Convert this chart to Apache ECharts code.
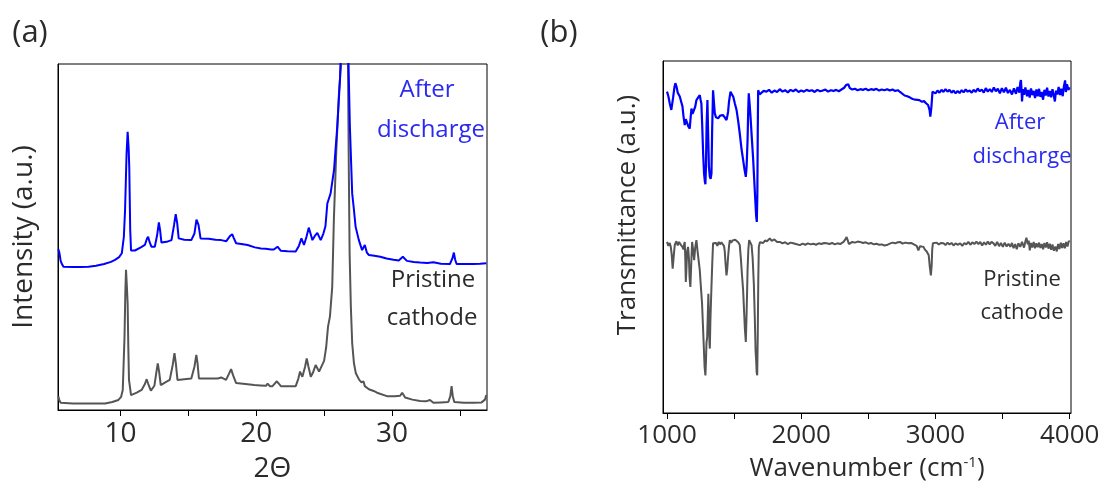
<!DOCTYPE html>
<html><head><meta charset="utf-8">
<script src="https://cdn.jsdelivr.net/npm/echarts@6/dist/echarts.min.js"></script>
<style>html,body{margin:0;padding:0;background:#fff}#c{width:1103px;height:491px}</style>
</head><body><div id="c"></div>
<script>
// ---- (a) XRD data: [2theta, intensity a.u.] ----
const xrdAfter = [[5.42,46.5],[5.5,45.5],[5.6,43.0],[5.69,42.2],[5.8,41.4],[6.5,41.3],[7.0,41.3],[7.65,41.4],[8.2,41.7],[8.8,42.2],[9.3,42.8],[9.6,43.4],[9.9,44.2],[10.1,45.3],[10.25,50.0],[10.34,57.8],[10.45,74.0],[10.53,80.4],[10.6,76.0],[10.65,70.0],[10.72,52.0],[10.78,46.1],[11.07,46.1],[11.5,47.0],[11.8,47.7],[11.95,49.5],[12.04,50.1],[12.15,48.5],[12.28,47.2],[12.53,47.2],[12.7,50.5],[12.83,54.2],[12.92,52.0],[13.02,48.4],[13.4,48.6],[13.76,49.1],[13.95,53.5],[14.07,56.6],[14.18,54.0],[14.29,49.6],[14.7,49.2],[15.22,49.1],[15.45,51.0],[15.6,55.0],[15.66,55.3],[15.75,53.5],[15.9,49.6],[16.5,49.5],[17.0,49.2],[17.42,49.1],[17.55,48.7],[17.8,48.8],[18.05,50.2],[18.23,50.8],[18.35,49.7],[18.52,48.2],[18.9,48.0],[19.37,47.7],[19.9,47.0],[20.35,46.7],[20.7,46.6],[21.08,46.4],[21.3,46.4],[21.57,47.2],[21.82,46.0],[22.3,45.9],[22.91,45.8],[23.15,47.5],[23.33,49.6],[23.52,47.7],[23.7,50.0],[23.87,52.7],[24.0,51.0],[24.14,49.1],[24.35,50.5],[24.5,51.2],[24.75,49.1],[24.95,51.0],[25.1,53.1],[25.24,59.7],[25.48,62.6],[25.73,69.3],[25.97,81.9],[26.17,95.4],[26.3,112],[26.5,130],[26.7,112],[26.8,100],[26.9,81.9],[27.07,62.6],[27.2,57.8],[27.32,53.0],[27.56,49.1],[27.8,46.2],[28.0,47.7],[28.15,45.5],[28.3,44.8],[28.7,44.6],[29.14,44.3],[29.6,43.8],[30.12,43.4],[30.5,43.2],[30.8,44.3],[31.1,43.1],[31.6,42.8],[32.07,42.6],[32.6,42.5],[33.05,42.7],[33.6,42.3],[34.27,42.2],[34.45,43.8],[34.56,45.5],[34.65,43.5],[34.76,42.2],[35.4,42.2],[35.98,42.2],[36.5,42.3],[36.95,42.4]];
const xrdPristine = [[5.42,4.0],[5.5,2.8],[5.6,2.1],[6.5,1.9],[7.5,1.9],[8.87,1.9],[9.4,2.3],[9.85,2.9],[10.05,3.8],[10.17,5.8],[10.3,21.2],[10.36,34.0],[10.41,40.5],[10.47,36.0],[10.53,30.8],[10.58,18.0],[10.63,8.7],[10.78,4.3],[11.2,5.0],[11.56,5.8],[11.8,7.5],[11.93,8.9],[12.05,7.5],[12.24,5.6],[12.5,7.0],[12.65,11.0],[12.75,13.5],[12.85,11.0],[12.97,7.2],[13.3,8.0],[13.63,8.7],[13.85,13.0],[13.98,16.4],[14.08,13.5],[14.2,8.7],[14.7,8.9],[15.22,9.1],[15.45,12.5],[15.59,15.9],[15.68,13.5],[15.78,9.1],[16.5,9.1],[17.17,9.1],[17.42,9.4],[17.78,8.7],[18.0,10.5],[18.15,11.8],[18.3,10.0],[18.52,7.8],[19.2,7.5],[19.86,7.2],[20.3,7.1],[20.72,7.0],[20.84,7.6],[21.0,6.9],[21.2,6.9],[21.52,8.3],[21.82,6.9],[22.4,6.9],[22.91,6.9],[23.1,9.0],[23.23,11.1],[23.4,9.6],[23.6,12.5],[23.72,14.9],[23.85,12.5],[24.02,9.6],[24.2,11.0],[24.38,13.0],[24.63,11.1],[25.0,14.2],[25.15,18.0],[25.29,24.1],[25.43,27.0],[25.6,35.6],[25.72,55.0],[25.9,75.0],[26.1,92.0],[26.26,100.5],[26.45,140],[26.62,140],[26.76,100],[26.82,70],[26.88,45.3],[26.97,30.0],[27.07,19.3],[27.2,13.5],[27.34,10.6],[27.59,8.7],[27.75,8.0],[27.9,8.3],[28.0,6.9],[28.3,6.0],[28.65,5.5],[28.9,5.0],[29.63,4.0],[30.2,4.0],[30.6,4.1],[30.75,5.0],[30.97,3.6],[31.5,3.0],[32.07,2.6],[32.5,2.5],[32.8,2.9],[33.05,2.1],[33.6,2.2],[34.15,2.3],[34.3,4.0],[34.39,6.9],[34.48,4.0],[34.59,2.3],[35.3,2.1],[35.98,2.1],[36.6,2.2],[36.85,3.0],[36.95,4.3]];
const xrdTicks = [10,15,20,25,30,35];
const xrdLabels = [10,20,30];

// ---- (b) FTIR data: [wavenumber, transmittance a.u.] ----
const ftirAfter = [[1000,91.3],[1010,90.0],[1020,88.0],[1032,86.1],[1045,89.5],[1055,92.5],[1062,93.7],[1070,92.8],[1080,91.0],[1095,89.9],[1105,88.5],[1115,87.1],[1122,84.5],[1132,81.8],[1140,83.5],[1149,83.7],[1158,81.5],[1169,80.8],[1175,83.5],[1182,86.5],[1190,85.0],[1202,85.1],[1210,87.0],[1219,88.9],[1230,89.5],[1244,90.3],[1250,89.0],[1256,87.9],[1262,82.0],[1269,73.8],[1276,68.0],[1282,65.7],[1286,65.0],[1290,70.0],[1295,82.0],[1301,88.9],[1306,80.0],[1312,70.0],[1319,67.1],[1325,66.5],[1331,68.0],[1336,80.0],[1343,91.7],[1350,88.0],[1356,85.1],[1365,84.0],[1381,83.7],[1395,84.5],[1405,84.0],[1418,84.6],[1430,84.0],[1443,83.2],[1450,84.5],[1455,85.6],[1462,88.5],[1473,91.3],[1483,90.5],[1493,89.9],[1505,88.0],[1518,86.1],[1530,83.0],[1542,79.4],[1555,75.0],[1567,71.9],[1578,69.0],[1587,67.1],[1593,70.0],[1600,77.5],[1605,86.0],[1609,90.8],[1615,88.0],[1622,84.2],[1632,78.0],[1642,71.9],[1650,66.0],[1659,59.5],[1664,56.0],[1669,54.3],[1673,62.0],[1676,80.0],[1679,91.7],[1690,90.5],[1704,90.8],[1720,91.5],[1741,91.3],[1760,91.8],[1780,91.0],[1800,91.6],[1820,91.2],[1840,92.0],[1860,91.3],[1880,91.7],[1900,91.1],[1920,91.8],[1940,91.4],[1960,91.9],[1980,91.2],[2000,91.6],[2020,91.3],[2040,91.8],[2060,91.5],[2080,91.7],[2100,91.2],[2120,91.8],[2140,91.4],[2160,91.6],[2180,91.9],[2200,91.3],[2220,91.7],[2240,91.5],[2260,91.8],[2280,91.4],[2300,91.9],[2320,92.4],[2335,93.2],[2350,93.4],[2362,92.3],[2380,91.9],[2400,92.1],[2420,91.7],[2440,92.0],[2460,91.8],[2480,92.1],[2500,91.7],[2520,92.0],[2540,91.8],[2560,92.1],[2580,91.6],[2600,91.9],[2620,91.7],[2640,92.0],[2660,91.6],[2680,91.9],[2700,91.5],[2720,91.7],[2736,91.2],[2750,90.8],[2770,90.2],[2790,90.0],[2811,89.6],[2830,89.2],[2850,89.0],[2861,88.7],[2880,88.9],[2900,88.4],[2915,88.6],[2930,88.0],[2945,87.5],[2956,86.1],[2962,84.2],[2966,83.8],[2970,87.0],[2978,91.3],[3000,90.8],[3015,91.6],[3030,91.0],[3045,91.8],[3060,91.2],[3075,92.0],[3090,91.3],[3105,91.8],[3120,91.0],[3135,91.6],[3150,90.8],[3165,91.5],[3180,90.9],[3195,91.7],[3210,91.1],[3225,91.9],[3240,91.3],[3255,91.6],[3270,91.0],[3285,91.8],[3300,91.2],[3315,92.2],[3330,91.4],[3345,91.9],[3360,91.0],[3375,92.3],[3390,91.3],[3405,92.0],[3420,91.2],[3435,92.5],[3450,91.4],[3465,92.1],[3480,90.8],[3495,92.3],[3510,91.1],[3525,92.4],[3540,90.9],[3555,91.8],[3570,90.5],[3585,92.2],[3600,90.7],[3612,92.6],[3625,91.0],[3632,93.8],[3637,94.6],[3642,91.5],[3645,88.5],[3652,92.0],[3660,90.4],[3670,92.5],[3682,90.0],[3692,91.8],[3702,89.6],[3712,92.2],[3722,90.3],[3732,91.5],[3742,89.5],[3752,91.9],[3762,90.0],[3772,92.1],[3782,89.8],[3792,91.2],[3802,89.0],[3812,91.8],[3822,90.2],[3832,92.4],[3842,89.9],[3852,91.5],[3862,89.7],[3872,92.0],[3882,90.1],[3890,88.5],[3898,91.6],[3908,90.5],[3918,92.6],[3928,90.3],[3938,92.1],[3948,90.0],[3958,93.0],[3966,94.5],[3972,91.2],[3980,93.4],[3990,91.8],[4000,92.5]];
const ftirPristine = [[1000,48.6],[1010,47.5],[1020,48.3],[1028,47.2],[1035,45.0],[1042,41.0],[1047,40.6],[1052,45.5],[1058,47.8],[1062,47.7],[1070,48.8],[1080,47.6],[1090,48.6],[1100,47.9],[1108,48.4],[1115,47.2],[1122,46.5],[1128,48.0],[1132,48.6],[1136,44.0],[1140,37.2],[1144,40.5],[1150,46.0],[1157,47.2],[1163,44.0],[1168,38.5],[1174,35.8],[1180,42.0],[1187,48.6],[1194,46.5],[1202,43.4],[1210,47.0],[1219,49.1],[1226,46.5],[1235,43.5],[1244,40.6],[1252,36.0],[1261,31.1],[1268,24.5],[1274,18.8],[1280,13.0],[1286,10.7],[1290,14.5],[1294,20.0],[1299,21.5],[1304,28.0],[1308,33.9],[1312,27.0],[1316,20.0],[1319,18.3],[1323,26.0],[1327,31.0],[1331,35.8],[1337,42.5],[1343,48.2],[1350,47.8],[1356,47.7],[1365,48.3],[1375,47.5],[1385,48.6],[1395,47.9],[1405,48.5],[1418,48.2],[1425,47.4],[1430,46.0],[1436,42.5],[1443,39.1],[1449,41.0],[1455,44.4],[1462,47.5],[1468,49.1],[1478,48.4],[1488,49.0],[1498,48.5],[1508,49.2],[1518,49.1],[1530,48.5],[1542,47.7],[1550,44.0],[1558,39.5],[1567,34.9],[1574,29.0],[1580,24.0],[1587,20.2],[1592,27.0],[1597,35.0],[1600,40.6],[1606,46.5],[1612,49.1],[1620,48.6],[1630,47.7],[1638,44.0],[1647,36.5],[1654,27.0],[1660,17.5],[1664,15.0],[1668,11.5],[1672,10.7],[1676,22.0],[1680,38.0],[1684,47.2],[1692,48.5],[1700,48.0],[1716,48.3],[1730,49.0],[1745,48.8],[1766,49.6],[1780,48.9],[1800,49.3],[1820,48.6],[1841,48.6],[1860,48.2],[1880,48.5],[1900,48.0],[1920,48.4],[1940,48.2],[1960,48.0],[1990,47.7],[2010,48.1],[2030,47.8],[2050,48.2],[2070,47.9],[2090,48.1],[2110,47.8],[2130,48.2],[2150,48.0],[2170,48.3],[2189,48.2],[2210,48.0],[2230,48.3],[2250,47.9],[2270,48.2],[2290,48.0],[2301,47.7],[2315,48.6],[2330,49.4],[2338,50.0],[2346,49.1],[2355,48.0],[2363,48.2],[2380,48.6],[2400,48.4],[2420,48.7],[2438,48.6],[2460,48.3],[2480,48.5],[2500,48.1],[2520,48.3],[2540,47.9],[2560,48.1],[2580,47.8],[2600,47.9],[2620,47.6],[2637,47.7],[2660,48.1],[2680,48.4],[2700,48.2],[2720,48.5],[2736,48.6],[2755,48.1],[2775,48.4],[2800,48.2],[2820,48.3],[2835,48.0],[2848,48.2],[2860,47.5],[2873,46.2],[2885,47.4],[2898,47.0],[2911,47.2],[2922,46.4],[2936,45.8],[2950,44.8],[2958,41.5],[2966,39.1],[2972,42.0],[2976,46.5],[2981,48.2],[2995,47.8],[3010,48.4],[3025,47.9],[3040,48.3],[3060,48.2],[3075,47.7],[3090,48.4],[3105,47.9],[3120,48.3],[3135,47.6],[3150,48.2],[3165,47.8],[3185,48.2],[3200,47.5],[3215,48.3],[3230,47.9],[3245,48.6],[3260,47.8],[3275,48.5],[3290,48.0],[3305,48.7],[3320,48.0],[3334,48.6],[3348,47.6],[3362,48.5],[3376,47.8],[3390,48.7],[3404,47.9],[3418,48.6],[3433,48.2],[3446,47.5],[3460,48.6],[3474,47.4],[3488,48.3],[3502,47.2],[3516,48.4],[3530,47.3],[3544,48.1],[3558,47.2],[3570,48.3],[3582,46.8],[3594,48.0],[3606,46.5],[3618,48.2],[3632,47.2],[3645,48.6],[3660,47.0],[3670,48.7],[3678,49.8],[3682,50.2],[3688,47.9],[3695,49.0],[3703,46.2],[3712,48.3],[3722,47.0],[3732,48.6],[3742,46.8],[3752,48.2],[3762,47.1],[3772,48.4],[3782,46.9],[3792,48.0],[3802,46.5],[3812,48.3],[3822,47.0],[3832,48.5],[3842,46.7],[3852,48.1],[3862,46.4],[3872,47.9],[3882,46.1],[3894,47.3],[3904,45.9],[3914,48.0],[3924,46.6],[3934,48.4],[3944,46.9],[3954,48.2],[3964,46.8],[3974,48.6],[3984,47.3],[3994,48.9],[4000,48.6]];
const ftirTicks = [1000,1500,2000,2500,3000,3500,4000];
const ftirLabels = [1000,2000,3000,4000];

const FONT = '"Open Sans", "Noto Sans", sans-serif';
const W = 400;
const TXT = '#2b2b2b';
const BLUE = '#0000ff';
const GRAY = '#555555';
const TBLUE = '#2a2af0';

const chart = echarts.init(document.getElementById('c'), null, {renderer: 'canvas'});

function xAxisCfg(idx, min, max, ticks, labels, name, nameGap, fs, nfs) {
  return {
    type: 'value', gridIndex: idx, min: min, max: max,
    name: name, nameLocation: 'middle', nameGap: nameGap,
    nameTextStyle: {fontFamily: FONT, fontWeight: W, fontSize: nfs, color: TXT,
      rich: {sup: {fontFamily: FONT, fontWeight: W, fontSize: 15, color: TXT, verticalAlign: 'top', padding: [0,0,12,0]}}},
    axisLine: {show: true, lineStyle: {color: '#000', width: 1}},
    axisTick: {show: true, inside: false, length: 6, customValues: ticks, lineStyle: {color: '#000'}},
    axisLabel: {show: true, customValues: labels, margin: 10, fontFamily: FONT, fontWeight: W, fontSize: fs, color: TXT,
      formatter: function (v) { return String(v); }},
    splitLine: {show: false}
  };
}
function yAxisCfg(idx, name, nameGap, fs) {
  return {
    type: 'value', gridIndex: idx, min: 0, max: 100,
    name: name, nameLocation: 'middle', nameGap: nameGap,
    nameTextStyle: {fontFamily: FONT, fontWeight: W, fontSize: fs, color: TXT},
    axisLine: {show: true, lineStyle: {color: '#000'}},
    axisTick: {show: false}, axisLabel: {show: false}, splitLine: {show: false}
  };
}

const yb = yAxisCfg(1, '', 0, 26);
const option = {
  backgroundColor: '#fff',
  animation: false,
  grid: [
    {left: 58, top: 64, width: 429, height: 346, show: true, borderColor: '#000', borderWidth: 1, backgroundColor: 'transparent'},
    {left: 663, top: 61, width: 408, height: 352, show: true, borderColor: '#000', borderWidth: 1, backgroundColor: 'transparent'}
  ],
  xAxis: [
    xAxisCfg(0, 5.4, 37, xrdTicks, xrdLabels, '2\u0398', 45, 28, 28),
    xAxisCfg(1, 970, 4010, ftirTicks, ftirLabels, 'Wavenumber (cm{sup|-1})', 42, 26, 26)
  ],
  yAxis: [
    yAxisCfg(0, 'Intensity (a.u.)', 20, 28),
    yb
  ],
  series: [
    {type: 'line', xAxisIndex: 0, yAxisIndex: 0, data: xrdPristine, showSymbol: false, clip: true, lineStyle: {color: GRAY, width: 2}},
    {type: 'line', xAxisIndex: 0, yAxisIndex: 0, data: xrdAfter, showSymbol: false, clip: true, lineStyle: {color: BLUE, width: 2}},
    {type: 'line', xAxisIndex: 1, yAxisIndex: 1, data: ftirPristine, showSymbol: false, clip: true, lineStyle: {color: GRAY, width: 2}},
    {type: 'line', xAxisIndex: 1, yAxisIndex: 1, data: ftirAfter, showSymbol: false, clip: true, lineStyle: {color: BLUE, width: 2.2}}
  ],
  graphic: [
    {type: 'text', x: 30, y: 33, style: {text: '(a)', font: W + ' 31px ' + FONT, fill: TXT, align: 'center', verticalAlign: 'middle'}},
    {type: 'text', x: 559, y: 33, style: {text: '(b)', font: W + ' 31px ' + FONT, fill: TXT, align: 'center', verticalAlign: 'middle'}},
    {type: 'text', x: 628, y: 215, rotation: Math.PI / 2, style: {text: 'Transmittance (a.u.)', font: W + ' 26px ' + FONT, fill: TXT, align: 'center', verticalAlign: 'middle'}},
    {type: 'text', x: 427, y: 90, style: {text: 'After', font: W + ' 24px ' + FONT, fill: TBLUE, align: 'center', verticalAlign: 'middle'}},
    {type: 'text', x: 431, y: 130, style: {text: 'discharge', font: W + ' 24px ' + FONT, fill: TBLUE, align: 'center', verticalAlign: 'middle'}},
    {type: 'text', x: 433, y: 280, style: {text: 'Pristine', font: W + ' 24px ' + FONT, fill: TXT, align: 'center', verticalAlign: 'middle'}},
    {type: 'text', x: 432, y: 318, style: {text: 'cathode', font: W + ' 24px ' + FONT, fill: TXT, align: 'center', verticalAlign: 'middle'}},
    {type: 'text', x: 1020, y: 123, style: {text: 'After', font: W + ' 22px ' + FONT, fill: TBLUE, align: 'center', verticalAlign: 'middle'}},
    {type: 'text', x: 1022, y: 157, style: {text: 'discharge', font: W + ' 22px ' + FONT, fill: TBLUE, align: 'center', verticalAlign: 'middle'}},
    {type: 'text', x: 1022, y: 280, style: {text: 'Pristine', font: W + ' 22px ' + FONT, fill: TXT, align: 'center', verticalAlign: 'middle'}},
    {type: 'text', x: 1022, y: 313, style: {text: 'cathode', font: W + ' 22px ' + FONT, fill: TXT, align: 'center', verticalAlign: 'middle'}}
  ]
};
chart.setOption(option);
</script>
</body></html>
